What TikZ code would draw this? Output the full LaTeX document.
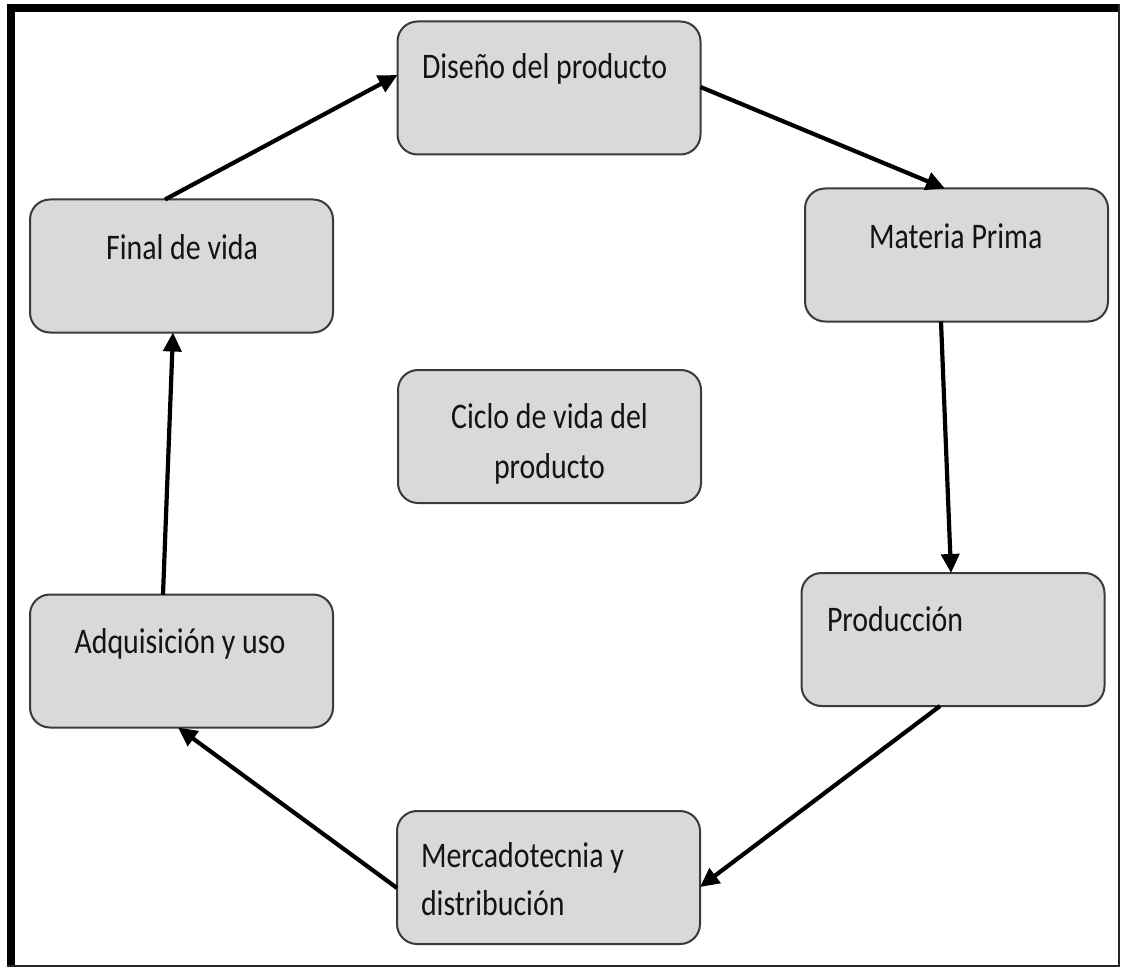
\documentclass[tikz,border=0pt]{standalone}
\usepackage{fontspec}
\setmainfont{Carlito}[FakeStretch=0.83]
\usetikzlibrary{arrows.meta,calc}
\definecolor{boxfill}{HTML}{D9D9D9}
\definecolor{boxline}{HTML}{3A3A3A}
\definecolor{inkcol}{HTML}{141414}
\begin{document}
\begin{tikzpicture}[x=1pt,y=-1pt,
  stage/.style={rectangle,rounded corners=20pt,fill=boxfill,draw=boxline,
    line width=2pt,minimum width=303pt,minimum height=133pt,inner sep=0pt,outer sep=0pt},
  lbl/.style={inner sep=0pt,outer sep=0pt,text=inkcol,
    font=\fontsize{36}{48}\selectfont},
  flow/.style={draw=black,line width=4.2pt,-{Triangle[length=19pt,width=18pt]}}]
  % page and frame
  \fill[white] (0,0) rectangle (1121,968);
  \useasboundingbox (0,0) rectangle (1121,968);
  \fill[black] (7,4) rectangle (1120,12.3);
  \fill[black] (7,4) rectangle (15,967);
  \fill[black!85] (1117.5,4) rectangle (1120,967);
  \fill[black!85] (7,964.8) rectangle (1120,967);

  % stages of the cycle
  \node[stage] (diseno)  at (549,88)    {};
  \node[stage] (materia) at (956.5,255) {};
  \node[stage] (prod)    at (953,639.5) {};
  \node[stage] (merca)   at (548.5,877.5) {};
  \node[stage] (adq)     at (181.5,661) {};
  \node[stage] (final)   at (181.5,266) {};
  \node[stage] (ciclo)   at (549.5,436.5) {};

  % labels
  \node[lbl,anchor=base west] (tdiseno)  at (422,79)  {Diseño del producto};
  \node[lbl,anchor=base west] (tmateria) at (869,249) {Materia Prima};
  \node[lbl,anchor=base west] (tprod)    at (827,631) {Producción};
  \node[lbl,anchor=base west] (tmerca1)  at (421,867) {Mercadotecnia y};
  \node[lbl,anchor=base west] (tmerca2)  at (421,915) {distribución};
  \node[lbl,anchor=base] (tadq)   at (180,653) {Adquisición y uso};
  \node[lbl,anchor=base] (tfinal) at (182,260) {Final de vida};
  \node[lbl,anchor=base] (tciclo1) at (549.5,428) {Ciclo de vida del};
  \node[lbl,anchor=base] (tciclo2) at (549.5,478) {producto};

  % connectors
  \draw[flow] ($(final.north)+(-16.5,0)$) -- ($(diseno.west)+(0,-13)$);
  \draw[flow] ($(diseno.east)+(0,-1)$) -- ($(materia.north)+(-11.5,0)$);
  \draw[flow] ($(materia.south)+(-15.5,0)$) -- ($(prod.north)+(-2,0)$);
  \draw[flow] ($(prod.south)+(-13,0)$) -- ($(merca.east)+(0,9.5)$);
  \draw[flow] ($(merca.west)+(0,10.5)$) -- ($(adq.south)+(-3.5,0)$);
  \draw[flow] ($(adq.north)+(-18.5,0)$) -- ($(final.south)+(-8.5,0)$);
\end{tikzpicture}
\end{document}
